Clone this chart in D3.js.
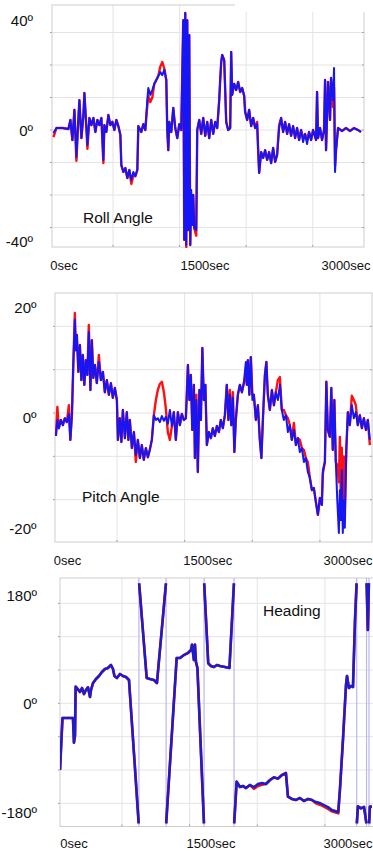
<!DOCTYPE html>
<html><head><meta charset="utf-8">
<script src="https://cdn.jsdelivr.net/npm/d3@7"></script>
<style>
html,body{margin:0;padding:0;background:#fff;}
svg{display:block;font-family:"Liberation Sans",Arial,Helvetica,sans-serif;}
</style></head><body>
<svg id="chart" width="373" height="851"></svg>
<script>
// ---------------- DATA ----------------
const timeDomain = [50, 2862];            // seconds shown in every panel
const gridTimes = [600, 1200, 1800, 2400];
const timeLabels = [0, 1500, 3000];

const rollGrid = [-30, -20, -10, 0, 10, 20, 30];
const rollLabels = [-40, 0, 40];
const rollTime = [63,90,144,198,216,234,252,270,288,297,315,333,342,360,369,387,405,423,441,459,477,495,513,522,540,558,576,594,612,630,648,666,675,693,711,729,747,765,783,801,819,828,855,873,891,909,918,936,954,972,990,1008,1026,1044,1062,1080,1089,1098,1107,1125,1143,1161,1179,1197,1215,1233,1242,1251,1260,1269,1278,1287,1296,1305,1314,1323,1332,1350,1359,1377,1395,1413,1431,1449,1467,1485,1503,1521,1539,1557,1566,1575,1584,1602,1611,1620,1638,1656,1665,1674,1692,1710,1728,1746,1764,1782,1791,1809,1827,1845,1863,1881,1899,1908,1917,1935,1953,1971,1989,2007,2025,2043,2061,2079,2097,2115,2133,2151,2169,2187,2205,2223,2241,2259,2277,2295,2313,2331,2349,2367,2385,2403,2430,2439,2448,2466,2484,2502,2511,2520,2538,2556,2565,2583,2592,2601,2610,2628,2664,2700,2736,2772,2808,2835];
const rollBlue = [-0.9,0.6,0.6,0.3,3.1,-3.1,6.2,-8.3,3.7,9.2,-2.5,4.6,11.4,0.6,-4.6,3.7,1.5,3.7,-0.6,3.1,1.5,3.7,-9.2,1.5,-0.6,4.6,1.5,2.5,0,3.1,1.2,-1.5,-10.8,-12.9,-11.7,-14.8,-12.3,-15.4,-12.9,-14.2,-12.3,1.2,-0.6,1.8,0,9.2,12.9,10.8,12.3,14.2,15.4,16.6,17.8,16.9,18.5,15.4,0,-6.2,2.5,-0.6,6.8,0.6,-2.5,1.8,0,33.8,-33.8,36,-35.4,33.8,-30.8,29.2,-35.4,-18.5,-29.2,-20,-30.2,-30.8,0,3.1,-1.2,3.7,-1.8,2.5,-2.5,3.1,-1.2,2.5,0.6,9.2,15.4,20.9,23.1,21.5,12.3,2.5,0,0.6,24,10.8,14.2,12.3,14.8,11.7,12.9,10.5,5.5,3.1,6.2,1.2,3.7,0.6,1.8,-6.2,-13.2,-6.8,-8.6,-6.2,-9.2,-6.8,-10.2,-5.5,-9.8,-7.7,0.6,3.7,-0.6,2.5,-1.2,1.8,-1.8,1.2,-2.5,0.6,-3.1,0,-3.7,-1.2,-4.3,-0.6,-3.1,0,-3.1,11.7,-2.5,0.6,-3.1,0,15.4,-6.2,14.8,3.1,16,9.2,19.1,-12.9,-6.2,0.6,-0.3,0.6,-0.3,0.6,0,-0.6];
const rollRed = [-2.2,0.6,0.6,0.3,3.1,-3.1,6.2,-9.5,3.7,9.2,-2.5,4.6,11.4,0.6,-5.8,3.7,1.5,3.7,-0.6,3.1,1.5,3.7,-10.2,1.5,-0.6,4.6,1.5,2.5,0,3.1,1.2,-1.5,-10.8,-12.9,-11.7,-14.8,-12.3,-16.6,-14,-14.2,-12.3,1.2,-0.6,1.8,0,7.5,10.5,8.6,10,14.2,15.4,16.6,19.5,20.9,19,15.4,0,-6.2,2.5,-0.6,6.8,0.6,-2.5,1.8,0,33.8,-33.8,36,-36,33.8,-30.8,29.2,-35.4,-20,-29.2,-20,-30.2,-32.5,0,3.1,-1.2,3.7,-1.8,2.5,-2.5,3.1,-1.2,2.5,0.6,9.2,15.4,20.9,23.1,21.5,12.3,2.5,0,0.6,24,10.8,14.2,12.3,14.8,11.7,12.9,10.5,5.5,3.1,6.2,1.2,3.7,0.6,2.5,-6.2,-13.2,-6.8,-8.6,-6.2,-9.2,-6.8,-10.2,-5.5,-9.8,-7.7,1.5,3.7,-0.6,2.5,-1.2,1.8,-1.8,1.2,-2.5,0.6,-3.1,0,-2.5,-1.2,-3.2,-0.6,-3.1,0,-3.1,11.7,-2.5,0.6,-3.1,0,15.4,-6.2,14.8,3.1,16,7,13,-11,-6.2,0.6,-0.3,0.6,-0.3,0.6,0,-0.6];

const pitchGrid = [-20, -10, 0, 10, 20];
const pitchLabels = [-20, 0, 20];
const pitchTime = [58,71,84,102,120,137,155,173,186,200,213,226,235,244,257,271,284,297,310,324,337,350,364,377,390,404,421,439,457,475,492,510,528,546,563,581,599,608,625,639,652,670,687,701,714,732,750,767,785,803,820,838,856,874,891,909,927,945,962,980,998,1016,1033,1051,1069,1087,1104,1122,1140,1158,1175,1193,1211,1229,1242,1255,1268,1282,1291,1304,1317,1331,1344,1357,1370,1384,1397,1415,1433,1450,1468,1486,1504,1521,1539,1557,1574,1588,1601,1614,1628,1641,1654,1672,1690,1708,1725,1743,1752,1761,1774,1787,1801,1814,1832,1850,1867,1881,1894,1912,1925,1938,1956,1974,1992,2009,2027,2045,2062,2080,2098,2116,2133,2151,2169,2187,2204,2222,2240,2258,2275,2293,2311,2329,2346,2364,2382,2400,2417,2426,2444,2457,2470,2488,2501,2514,2528,2541,2554,2568,2577,2586,2594,2603,2612,2621,2634,2648,2665,2683,2701,2719,2736,2754,2772,2790,2808,2825,2843];
const pitchBlue = [-5.3,-1.6,-3.5,-1.6,-2.8,-1.2,-2.1,-0.2,-6.2,-0.5,11.8,21.5,14.5,18,9.5,15.7,7.6,13.4,6.5,12.2,8.8,18.7,5.3,16.8,8.1,11.1,6.9,11.8,7.6,9.5,4.8,7.6,4.2,6.9,3.5,5.8,3,-6.2,-1.2,-6.7,0.7,-5.8,0.2,-6.2,-1.6,-8.1,-4.4,-9.7,-6.2,-10.4,-7.4,-10.8,-8.1,-10.2,-8.5,-6.2,-0.5,-1.6,-1.2,-2.1,-0.7,-1.8,-0.9,-2.5,0.7,-3,0.2,-6.2,0.2,-2.8,-0.2,-1.6,-1.2,11.1,3,8.8,-3.9,6.5,-10.4,3,-13.6,5.3,-1.6,15,3,6.5,-7.4,-4.4,-5.8,-3.5,-5.3,-3,-4.4,-1.6,-3.5,-0.5,6.5,-1.6,4.2,-2.8,3.5,-9,-1.6,4.2,6.5,4.8,6.9,11.8,6.5,12.2,4.2,12.9,3,4.2,-1.6,1.8,-6.2,-10.4,-1.6,8.8,11.8,4.2,0.7,5.3,1.8,4.8,3,6.5,0.7,-1.6,-0.5,-4.4,-2.8,-6.2,-3.9,-7.4,-5.8,-9,-8.1,-11.3,-10.4,-13.6,-15,-17.8,-17.3,-20.5,-23.5,-19.6,-21.2,-13.2,-11.3,7.2,-3.9,-5.5,5.8,-8.5,3,-11.3,-20.1,-27.7,-17.8,-24.7,-13.2,-27.7,-20.1,-26.5,-8.5,0.2,-2.8,1.8,-1.2,0.2,-2.8,-0.5,-3.5,-1.2,-3.9,-1.6,-6.2];
const pitchRed = [-5.3,1.4,-3.5,-1.6,-2.8,-1.2,-2.1,1.8,-6.2,-0.5,11.8,23.1,14.5,18,9.5,15.7,7.6,13.4,6.5,12.2,8.8,20.3,5.3,16.8,8.1,11.1,6.9,13.4,7.6,9.5,4.8,7.6,4.2,6.9,3.5,5.8,3,-6.2,-1.2,-6.7,0.7,-5.8,0.2,-6.2,-1.6,-8.1,-4.4,-11.3,-6.2,-10.4,-7.4,-10.8,-8.1,-10.2,-8.5,-6.2,-0.5,3,5.3,6.7,7.2,4.8,1.2,-4.4,-6.2,-3,0.2,-6.2,0.2,-2.8,-0.2,-1.6,-1.2,11.1,3,8.8,-3.9,6.5,-10.4,4.2,-13.6,5.3,-1.6,15,3,6.5,-7.4,-4.4,-5.8,-3.5,-5.3,-3,-4.4,-1.6,-3.5,-0.5,6.5,-1.6,5.3,-2.8,4.8,-9,-1.6,4.2,6.5,4.8,6.9,8.8,6.5,12.2,4.2,12.9,4.2,4.2,-1.6,1.8,-6.2,-10.4,-1.6,8.8,11.8,4.2,0.7,5.3,1.8,4.8,7.6,8.3,0.7,0.7,-0.5,-1.2,-2.8,-6.2,-2.3,-7.4,-5.8,-6.2,-8.1,-8.5,-10.4,-11.3,-15,-17.8,-17.3,-20.5,-23.5,-19.6,-21.2,-14,-11.3,7.2,-3.9,-5.5,5.8,-8.5,3,-11.3,-12,-16,-5.5,-20,-8,-24,-10,-22,-8.5,0.2,-2.8,4,3,1.8,-2.8,-0.5,-3.5,-1.2,-3.9,-1.6,-7.4];

const headingGrid = [-150, -100, -50, 0, 50, 100, 150];
const headingLabels = [-180, 0, 180];
const headingTime = [50,72,103,138,165,174,183,189,209,227,245,263,280,298,316,325,342,369,396,422,449,475,502,520,533,555,582,608,635,662,706,748,752,819,848,883,910,990,992,1085,1114,1150,1185,1212,1221,1238,1247,1256,1269,1327,1329,1365,1389,1416,1442,1469,1513,1553,1593,1595,1617,1646,1673,1700,1735,1771,1806,1842,1877,1913,1948,1983,2019,2054,2072,2108,2143,2178,2214,2249,2285,2320,2356,2391,2427,2462,2518,2533,2560,2587,2596,2613,2631,2649,2667,2681,2683,2693,2720,2747,2768,2770,2781,2790,2792,2799,2817];
const headingBlue = [-100,-22,-22,-22,-22,-59,-48,25,21,17,23,14,20,24,9.5,20,30,36.5,41,47,51.5,53,57.5,51.5,41,38,44,41,39.5,35,-74.5,-180,180,38,36.5,35,30.5,180,-180,68,68,72.5,75.5,80,88,65,88,62,53,-180,180,60,56,54.5,57.5,56,54.5,53,180,-180,-117.5,-125.5,-124,-127,-122.5,-125.5,-121,-119.5,-121,-115,-111,-113,-107.5,-104.5,-140,-143.5,-145,-142,-146.5,-143.5,-145,-148,-149.5,-152.5,-155.5,-160,-163,-130,-55,27.5,41,23,26,24.5,125,180,-180,-154.5,-157.5,-155.5,-180,180,110,180,-180,-155,-155];
const headingRed = [-100,-22,-22,-22,-22,-59,-48,25,21,17,23,14,20,24,9.5,20,30,36.5,41,47,51.5,53,57.5,51.5,41,38,44,41,39.5,35,-74.5,-180,180,38,36.5,35,30.5,180,-180,68,68,72.5,75.5,80,88,65,88,62,53,-180,180,60,56,54.5,57.5,56,54.5,53,180,-180,-117.5,-125.5,-124,-127,-122.5,-128,-124,-122,-121,-115,-111,-113,-107.5,-104.5,-140,-143.5,-145,-142,-146.5,-143.5,-145,-150,-152,-155,-158,-162,-165,-130,-55,27.5,41,23,26,24.5,125,180,-180,-154.5,-157.5,-155.5,-180,180,110,180,-180,-155,-155];

// ---------------- LAYOUT ----------------
const panels = [
  { id:"roll", left:52, right:364, top:5, bottom:247, yDomain:[-36, 38.46],
    grid:rollGrid, labels:rollLabels, labelRange:[241.7, 20.2], labelX:33,
    xLabelRange:[63.5, 345.5], xLabelY:260.8, title:"Roll Angle", titleX:83, titleY:223,
    time:rollTime, blue:rollBlue, red:rollRed, wrap:false, blueW:2, redW:2.4, mask:true },
  { id:"pitch", left:55, right:372, top:293, bottom:542, yDomain:[-29.77, 27.7],
    grid:pitchGrid, labels:pitchLabels, labelRange:[528.2, 307.2], labelX:36.5,
    xLabelRange:[67, 347.5], xLabelY:555.8, title:"Pitch Angle", titleX:82, titleY:502,
    time:pitchTime, blue:pitchBlue, red:pitchRed, wrap:false, blueW:2, redW:2.4 },
  { id:"heading", left:60, right:377, top:578, bottom:826.5, yDomain:[-184.75, 188],
    grid:headingGrid, labels:headingLabels, labelRange:[812.2, 595.2], labelX:37,
    xLabelRange:[73.5, 347.5], xLabelY:838.8, title:"Heading", titleX:263, titleY:616,
    time:headingTime, blue:headingBlue, red:headingRed, wrap:true, blueW:2.5, redW:2.7 }
];

const svg = d3.select("#chart");

function splitWrap(times, vals) {
  const segs = []; let cur = [];
  for (let i = 0; i < times.length; i++) {
    if (i > 0 && Math.abs(vals[i] - vals[i-1]) > 300) { segs.push(cur); cur = []; }
    cur.push([times[i], vals[i]]);
  }
  segs.push(cur);
  return segs;
}
function wrapTimes(times, vals) {
  const out = [];
  for (let i = 1; i < times.length; i++)
    if (Math.abs(vals[i] - vals[i-1]) > 300) out.push((times[i] + times[i-1]) / 2);
  return out;
}

panels.forEach(p => {
  const g = svg.append("g").attr("class", p.id);
  const x = d3.scaleLinear().domain(timeDomain).range([p.left, p.right]);
  const y = d3.scaleLinear().domain(p.yDomain).range([p.bottom, p.top]);

  // grid
  g.append("g").selectAll("line").data(p.grid).join("line")
    .attr("x1", p.left).attr("x2", p.right)
    .attr("y1", d => y(d)).attr("y2", d => y(d))
    .attr("stroke", "#e4e4e4").attr("stroke-width", 1);
  g.append("g").selectAll("line").data(gridTimes).join("line")
    .attr("x1", d => x(d)).attr("x2", d => x(d))
    .attr("y1", p.top).attr("y2", p.bottom)
    .attr("stroke", "#e4e4e4").attr("stroke-width", 1);

  // small ticks on frame
  g.append("g").selectAll("line").data(p.grid).join("line")
    .attr("x1", p.left - 2).attr("x2", p.left)
    .attr("y1", d => y(d)).attr("y2", d => y(d))
    .attr("stroke", "#9a9a9a").attr("stroke-width", 1);
  g.append("g").selectAll("line").data(p.grid).join("line")
    .attr("x1", p.right - 2).attr("x2", p.right)
    .attr("y1", d => y(d)).attr("y2", d => y(d))
    .attr("stroke", "#9a9a9a").attr("stroke-width", 1);
  g.append("g").selectAll("line").data(gridTimes).join("line")
    .attr("x1", d => x(d)).attr("x2", d => x(d))
    .attr("y1", p.bottom - 2).attr("y2", p.bottom)
    .attr("stroke", "#9a9a9a").attr("stroke-width", 1);

  // frame
  g.append("rect").attr("x", p.left).attr("y", p.top)
    .attr("width", p.right - p.left).attr("height", p.bottom - p.top)
    .attr("fill", "none").attr("stroke", "#cdcdcd").attr("stroke-width", 1);

  const clipId = "clip-" + p.id;
  svg.append("clipPath").attr("id", clipId).append("rect")
    .attr("x", p.left).attr("y", p.top - 1)
    .attr("width", p.right - p.left).attr("height", p.bottom - p.top + 2);
  const plot = g.append("g").attr("clip-path", `url(#${clipId})`);

  const line = d3.line().x(d => x(d[0])).y(d => y(d[1]));

  if (p.wrap) {
    // faint wrap connectors at ±180 crossings
    plot.selectAll("line.wrap").data(wrapTimes(p.time, p.blue)).join("line")
      .attr("class", "wrap")
      .attr("x1", d => x(d)).attr("x2", d => x(d))
      .attr("y1", p.top).attr("y2", p.bottom)
      .attr("stroke", "#b8b8ee").attr("stroke-width", 1.2);
    plot.selectAll("path.red").data(splitWrap(p.time, p.red)).join("path")
      .attr("class", "red").attr("d", line)
      .attr("fill", "none").attr("stroke", "#ee1111").attr("stroke-width", p.redW)
      .attr("stroke-linejoin", "round");
    plot.selectAll("path.blue").data(splitWrap(p.time, p.blue)).join("path")
      .attr("class", "blue").attr("d", line)
      .attr("fill", "none").attr("stroke", "#1c1ccf").attr("stroke-width", p.blueW)
      .attr("stroke-linejoin", "round");
  } else {
    plot.append("path").datum(p.time.map((t, i) => [t, p.red[i]]))
      .attr("d", line).attr("fill", "none").attr("stroke", "#ff1010")
      .attr("stroke-width", p.redW).attr("stroke-linejoin", "round");
    plot.append("path").datum(p.time.map((t, i) => [t, p.blue[i]]))
      .attr("d", line).attr("fill", "none").attr("stroke", "#1515f5")
      .attr("stroke-width", p.blueW).attr("stroke-linejoin", "round");
  }

  if (p.mask) {
    svg.append("rect").attr("x", 235).attr("y", 0).attr("width", 140).attr("height", 12)
      .attr("fill", "#fff");
  }

  // y labels
  const yl = d3.scaleLinear().domain([p.labels[0], p.labels[2]]).range(p.labelRange);
  const ya = g.append("g").attr("transform", `translate(${p.labelX},0)`)
    .call(d3.axisLeft(yl).tickValues(p.labels).tickSize(0).tickPadding(0)
      .tickFormat(d => d + "º"));
  ya.select(".domain").remove();
  ya.selectAll("text").attr("font-size", 15).attr("fill", "#111")
    .attr("font-family", "'Liberation Sans',Arial,sans-serif");

  // x labels
  const xl = d3.scaleLinear().domain([timeLabels[0], timeLabels[2]]).range(p.xLabelRange);
  const xa = g.append("g").attr("transform", `translate(0,${p.xLabelY})`)
    .call(d3.axisBottom(xl).tickValues(timeLabels).tickSize(0).tickPadding(0)
      .tickFormat(d => d + "sec"));
  xa.select(".domain").remove();
  xa.selectAll("text").attr("font-size", 13).attr("fill", "#111")
    .attr("font-family", "'Liberation Sans',Arial,sans-serif");

  // title
  g.append("text").attr("x", p.titleX).attr("y", p.titleY)
    .attr("font-size", 15.5).attr("fill", "#111").text(p.title);
});
</script>
</body></html>
